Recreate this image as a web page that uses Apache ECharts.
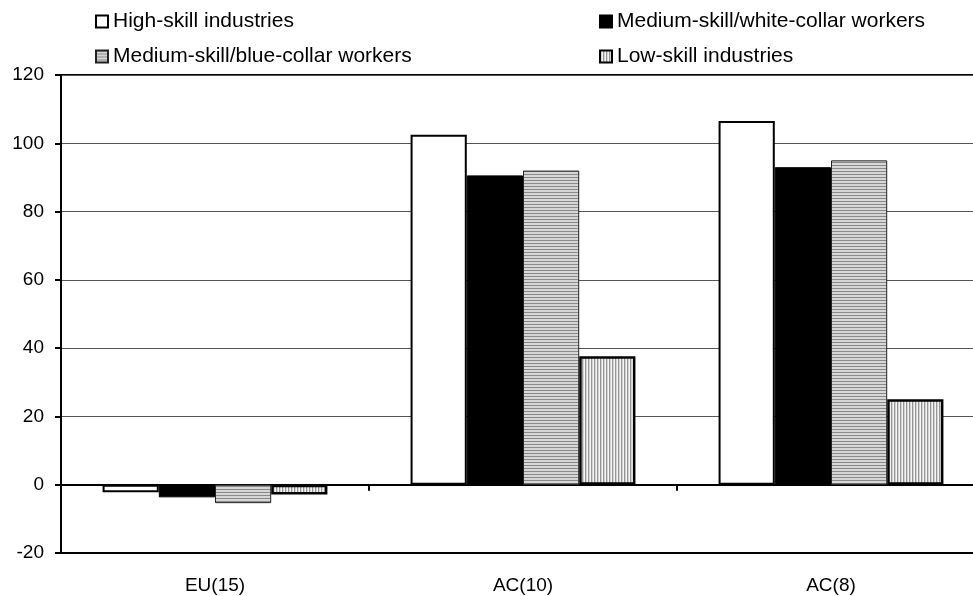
<!DOCTYPE html>
<html>
<head>
<meta charset="utf-8">
<script src="https://cdn.jsdelivr.net/npm/echarts@6/dist/echarts.min.js"></script>
<style>
  html, body { margin: 0; padding: 0; background: #fff; overflow: hidden; }
  /* the plot runs a little past the right edge of the window */
  #chart { width: 985px; height: 596px; }
</style>
</head>
<body>
<div id="chart"></div>
<script>
// Regions on the category axis
const categories = ['EU(15)', 'AC(10)', 'AC(8)'];

// Series values (percent change)
const highSkill   = [-2.2, 102.5, 106.5];
const whiteCollar = [-3.7, 90.6, 93.0];
const blueCollar  = [-5.4, 92.0, 95.0];
const lowSkill    = [-2.9, 37.6, 25.0];

// Value-axis range and step
const yMin = -20;
const yMax = 120;
const yStep = 20;

// Hatch fills built on small canvases and tiled by the renderer
function hatch(w, h, stripes, vertical) {
  const c = document.createElement('canvas');
  c.width = w; c.height = h;
  const ctx = c.getContext('2d');
  stripes.forEach((col, i) => {
    ctx.fillStyle = col;
    if (vertical) ctx.fillRect(i, 0, 1, h);
    else ctx.fillRect(0, i, w, 1);
  });
  return { image: c, repeat: 'repeat' };
}
const horizFill = hatch(4, 3, ['#8a8a8a', '#d6d6d6', '#d6d6d6'], false);
const vertFill  = hatch(3, 4, ['#959595', '#d4d4d4', '#f4f4f4'], true);

const FONT = 'Liberation Sans, Arial, sans-serif';

const chart = echarts.init(document.getElementById('chart'), null, { renderer: 'canvas' });

const legendBase = {
  itemWidth: 12,
  itemHeight: 12,
  icon: 'rect',
  textStyle: { fontFamily: FONT, fontSize: 21, color: '#000' },
  selectedMode: false
};

chart.setOption({
  animation: false,
  backgroundColor: '#fff',
  grid: {
    left: 61, top: 75, bottom: 43, right: 0,
    show: true, borderColor: '#000', borderWidth: 2, backgroundColor: 'transparent'
  },
  legend: [
    Object.assign({ data: ['High-skill industries'], left: 90, top: 6 }, legendBase),
    Object.assign({ data: ['Medium-skill/white-collar workers'], left: 594, top: 6 }, legendBase),
    Object.assign({ data: ['Medium-skill/blue-collar workers'], left: 90, top: 41 }, legendBase),
    Object.assign({ data: ['Low-skill industries'], left: 594, top: 41 }, legendBase)
  ],
  xAxis: [
    {
      type: 'category',
      data: categories,
      position: 'bottom',
      axisLine: { show: true, onZero: false, lineStyle: { color: '#000', width: 2 } },
      axisTick: { show: false },
      axisLabel: { fontFamily: FONT, fontSize: 19, color: '#000', margin: 23 }
    },
    {
      type: 'category',
      data: categories,
      position: 'top',
      axisLine: { show: true, onZero: true, lineStyle: { color: '#000', width: 2 } },
      axisTick: { show: true, inside: true, length: 6, lineStyle: { color: '#000', width: 2 } },
      axisLabel: { show: false }
    }
  ],
  yAxis: {
    type: 'value',
    min: yMin, max: yMax, interval: yStep,
    axisLine: { show: true, lineStyle: { color: '#000', width: 2 } },
    axisTick: { show: true, length: 6, lineStyle: { color: '#000', width: 2 } },
    axisLabel: { fontFamily: FONT, fontSize: 19, color: '#000', margin: 17 },
    splitLine: { show: true, lineStyle: { color: '#555', width: 1 } }
  },
  series: [
    {
      name: 'High-skill industries', type: 'bar', data: highSkill,
      barGap: '0%', barCategoryGap: '27%',
      itemStyle: { color: '#fff', borderColor: '#000', borderWidth: 2 }
    },
    {
      name: 'Medium-skill/white-collar workers', type: 'bar', data: whiteCollar,
      barGap: '0%', barCategoryGap: '27%',
      itemStyle: { color: '#000', borderColor: '#000', borderWidth: 1 }
    },
    {
      name: 'Medium-skill/blue-collar workers', type: 'bar', data: blueCollar,
      barGap: '0%', barCategoryGap: '27%',
      itemStyle: { color: horizFill, borderColor: '#222', borderWidth: 1 }
    },
    {
      name: 'Low-skill industries', type: 'bar', data: lowSkill,
      barGap: '0%', barCategoryGap: '27%',
      itemStyle: { color: vertFill, borderColor: '#000', borderWidth: 2.5 }
    }
  ]
});
</script>
</body>
</html>
